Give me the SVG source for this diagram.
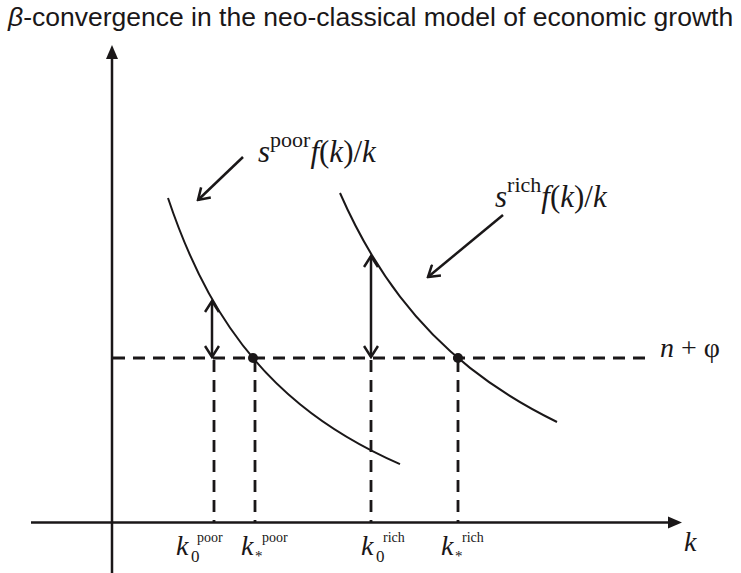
<svg xmlns="http://www.w3.org/2000/svg" width="741" height="573" viewBox="0 0 741 573">
<style>
.ax{stroke:#1a1718;stroke-width:2.5;fill:none}
.cv{stroke:#1a1718;stroke-width:2;fill:none}
.da{stroke:#1a1718;stroke-width:2.8;stroke-dasharray:12 8;fill:none}
.ar{stroke:#1a1718;stroke-width:2.5;fill:none}
.t{font-family:"Liberation Serif","Times New Roman",serif;fill:#1a1718}
.i{font-style:italic}
.title{font-family:"Liberation Sans",Arial,sans-serif;font-size:26.5px;fill:#1a1718}
</style>
<defs>
<marker id="ch" viewBox="-12 -8 14 16" markerWidth="14" markerHeight="16" refX="0" refY="0" orient="auto-start-reverse" markerUnits="userSpaceOnUse">
<path d="M-11,-7 L0,0 L-11,7" fill="none" stroke="#1a1718" stroke-width="2.5"/>
</marker>
</defs>
<text class="title" x="8" y="26"><tspan font-style="italic">β</tspan>-convergence in the neo-classical model of economic growth</text>
<g id="axes">
<line class="ax" x1="112" y1="573" x2="112" y2="56"/>
<path d="M112,45 L106,59 L118,59 Z" fill="#1a1718"/>
<line class="ax" x1="31" y1="522.5" x2="670" y2="522.5"/>
<path d="M682,522.5 L668,516.5 L668,528.5 Z" fill="#1a1718"/>
<text class="t i" x="684" y="551" font-size="28">k</text>
</g>
<g id="connectors">
<line class="da" x1="113" y1="358" x2="645" y2="358"/>
<line class="da" x1="214" y1="360" x2="214" y2="522"/>
<line class="da" x1="255" y1="360" x2="255" y2="522"/>
<line class="da" x1="371" y1="360" x2="371" y2="522"/>
<line class="da" x1="458" y1="360" x2="458" y2="522"/>
<line class="ar" x1="212" y1="301" x2="212" y2="357" marker-start="url(#ch)" marker-end="url(#ch)"/>
<line class="ar" x1="371" y1="256" x2="371" y2="357" marker-start="url(#ch)" marker-end="url(#ch)"/>
<line class="ar" x1="243" y1="157" x2="198" y2="200" marker-end="url(#ch)"/>
<line class="ar" x1="503" y1="215" x2="428" y2="277" marker-end="url(#ch)"/>
</g>
<g id="curve-poor">
<path class="cv" d="M168,198 C188.7,259.9 209.3,297.6 230,327.8 C253.3,361.9 276.7,385.2 300,404.2 C333.3,431.4 366.7,449.5 400,464.1"/>
<circle cx="253" cy="358" r="5" fill="#1a1718"/>
</g>
<g id="curve-rich">
<path class="cv" d="M340,193 C360,238.7 380,270.5 400,296.6 C423.3,327.1 446.7,349.4 470,367.9 C499,390.9 528,407.8 557,422"/>
<circle cx="458" cy="358" r="5" fill="#1a1718"/>
</g>
<g id="label-poor">
<text class="t" x="258" y="162" font-size="31"><tspan class="i">s</tspan><tspan font-size="22" dy="-15">poor</tspan><tspan class="i" dy="15">f</tspan>(<tspan class="i">k</tspan>)/<tspan class="i">k</tspan></text>
</g>
<g id="label-rich">
<text class="t" x="495" y="207" font-size="31"><tspan class="i">s</tspan><tspan font-size="22" dy="-15">rich</tspan><tspan class="i" dy="15">f</tspan>(<tspan class="i">k</tspan>)/<tspan class="i">k</tspan></text>
</g>
<g id="label-n">
<text class="t" x="660" y="357" font-size="28"><tspan class="i">n</tspan> + φ</text>
</g>
<g id="k0poor">
<text class="t i" x="176" y="555" font-size="28">k</text>
<text class="t" x="191" y="562" font-size="17">0</text>
<text class="t" x="197" y="542" font-size="14">poor</text>
</g>
<g id="kspoor">
<text class="t i" x="241" y="555" font-size="28">k</text>
<text class="t" x="255" y="561" font-size="15">*</text>
<text class="t" x="262" y="542" font-size="14">poor</text>
</g>
<g id="k0rich">
<text class="t i" x="361" y="555" font-size="28">k</text>
<text class="t" x="376" y="562" font-size="17">0</text>
<text class="t" x="383" y="542" font-size="14">rich</text>
</g>
<g id="ksrich">
<text class="t i" x="441" y="555" font-size="28">k</text>
<text class="t" x="455" y="561" font-size="15">*</text>
<text class="t" x="462" y="542" font-size="14">rich</text>
</g>
</svg>
